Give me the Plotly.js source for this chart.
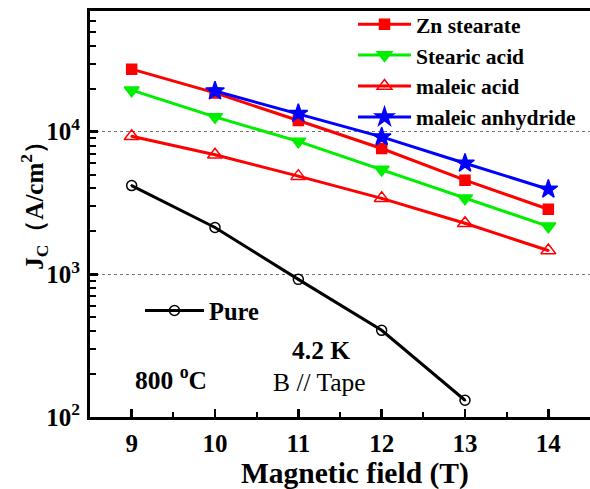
<!DOCTYPE html>
<html>
<head>
<meta charset="utf-8">
<script src="https://cdn.plot.ly/plotly-3.0.1.min.js"></script>
<style>html,body{margin:0;padding:0;background:#fff;}#chart{width:590px;height:489px;}</style>
</head>
<body>
<div id="chart"></div>
<script>
const field = [9, 10, 11, 12, 13, 14];
const fieldAnhydride = [10, 11, 12, 13, 14];
const fieldPure = [9, 10, 11, 12, 13];
const znStearate = [27450, 18700, 11980, 7620, 4570, 2860];
const stearicAcid = [19540, 12700, 8550, 5430, 3410, 2170];
const maleicAcid = [9300, 6900, 4880, 3410, 2280, 1470];
const maleicAnhydride = [19300, 13400, 9190, 6010, 3950];
const pure = [4190, 2130, 922, 405, 131];
const xTicks = [9, 10, 11, 12, 13, 14];
const yTicks = [100, 1000, 10000];
const yTickText = ['10<sup>2</sup>', '10<sup>3</sup>', '10<sup>4</sup>'];

const F = '"Liberation Serif", "Times New Roman", serif';
const yMinor = [];
[100, 1000, 10000].forEach(d => { for (let k = 2; k <= 9; k++) yMinor.push(d * k); });

function tr(name, x, y, color, symbol, size, legend) {
  return {
    x: x, y: y, name: name, type: 'scatter', mode: 'lines+markers',
    line: {color: color, width: 3},
    marker: {symbol: symbol, size: size, color: color, line: {color: color, width: 1.5}},
    legend: legend || 'legend'
  };
}

const data = [
  tr('Zn stearate', field, znStearate, '#ff0000', 'square', 10),
  tr('Stearic acid', field, stearicAcid, '#00ee00', 'triangle-down', 13),
  tr('maleic acid', field, maleicAcid, '#ff0000', 'triangle-up-open-dot', 13),
  tr('maleic anhydride', fieldAnhydride, maleicAnhydride, '#0000ff', 'star', 14),
  tr('Pure', fieldPure, pure, '#000000', 'circle-open-dot', 10, 'legend2')
];

const layout = {
  width: 590, height: 489,
  margin: {l: 90, r: 0, t: 11, b: 72},
  paper_bgcolor: '#fff', plot_bgcolor: '#fff',
  font: {family: F, color: '#000'},
  showlegend: true,
  legend: {
    x: 0.526, y: 1.018, xanchor: 'left', yanchor: 'top',
    bgcolor: 'rgba(0,0,0,0)', borderwidth: 0, itemwidth: 53,
    font: {family: F, size: 21.5, color: '#000', weight: 'bold'},
    tracegroupgap: 0
  },
  legend2: {
    x: 0.1, y: 0.262, xanchor: 'left', yanchor: 'middle',
    bgcolor: 'rgba(0,0,0,0)', borderwidth: 0, itemwidth: 59,
    font: {family: F, size: 24.5, color: '#000', weight: 'bold'}
  },
  xaxis: {
    range: [8.5, 14.5],
    tickvals: xTicks,
    ticks: 'inside', ticklen: 8, tickwidth: 2.5, tickcolor: '#000',
    minor: {dtick: 0.5, ticks: 'inside', ticklen: 5, tickwidth: 2, tickcolor: '#000'},
    showline: true, linecolor: '#000', linewidth: 3, mirror: true,
    showgrid: false, zeroline: false,
    tickfont: {family: F, size: 25, color: '#000', weight: 'bold'},
    ticklabelstandoff: 2
  },
  yaxis: {
    type: 'log',
    range: [2, 4.846],
    tickvals: yTicks, ticktext: yTickText,
    ticks: 'inside', ticklen: 8, tickwidth: 2.5, tickcolor: '#000',
    minor: {tickvals: yMinor, ticks: 'inside', ticklen: 6, tickwidth: 2, tickcolor: '#000', showgrid: false},
    showline: true, linecolor: '#000', linewidth: 3,
    showgrid: true, gridcolor: '#777', griddash: 'dot', gridwidth: 1.2,
    zeroline: false,
    tickfont: {family: F, size: 25, color: '#000', weight: 'bold'},
    ticklabelstandoff: 2
  },
  annotations: [
    {xref: 'paper', yref: 'paper', x: 0.53, y: -0.14, xanchor: 'center', yanchor: 'middle',
     text: 'Magnetic field (T)', showarrow: false,
     font: {family: F, size: 29.5, color: '#000', weight: 'bold'}},
    {xref: 'paper', yref: 'paper', x: -0.112, y: 0.535, xanchor: 'center', yanchor: 'middle', textangle: -90,
     text: 'J<sub>C</sub>（A/cm<sup>2</sup>）', showarrow: false,
     font: {family: F, size: 25, color: '#000', weight: 'bold'}},
    {xref: 'paper', yref: 'paper', x: 0.161, y: 0.095, xanchor: 'center', yanchor: 'middle',
     text: '800 <sup>o</sup>C', showarrow: false,
     font: {family: F, size: 25.5, color: '#000', weight: 'bold'}},
    {xref: 'paper', yref: 'paper', x: 0.462, y: 0.165, xanchor: 'center', yanchor: 'middle',
     text: '4.2 K', showarrow: false,
     font: {family: F, size: 25.5, color: '#000', weight: 'bold'}},
    {xref: 'paper', yref: 'paper', x: 0.459, y: 0.084, xanchor: 'center', yanchor: 'middle',
     text: 'B // Tape', showarrow: false,
     font: {family: F, size: 25.5, color: '#000'}}
  ]
};

Plotly.newPlot('chart', data, layout, {displayModeBar: false, staticPlot: true});
</script>
</body>
</html>
